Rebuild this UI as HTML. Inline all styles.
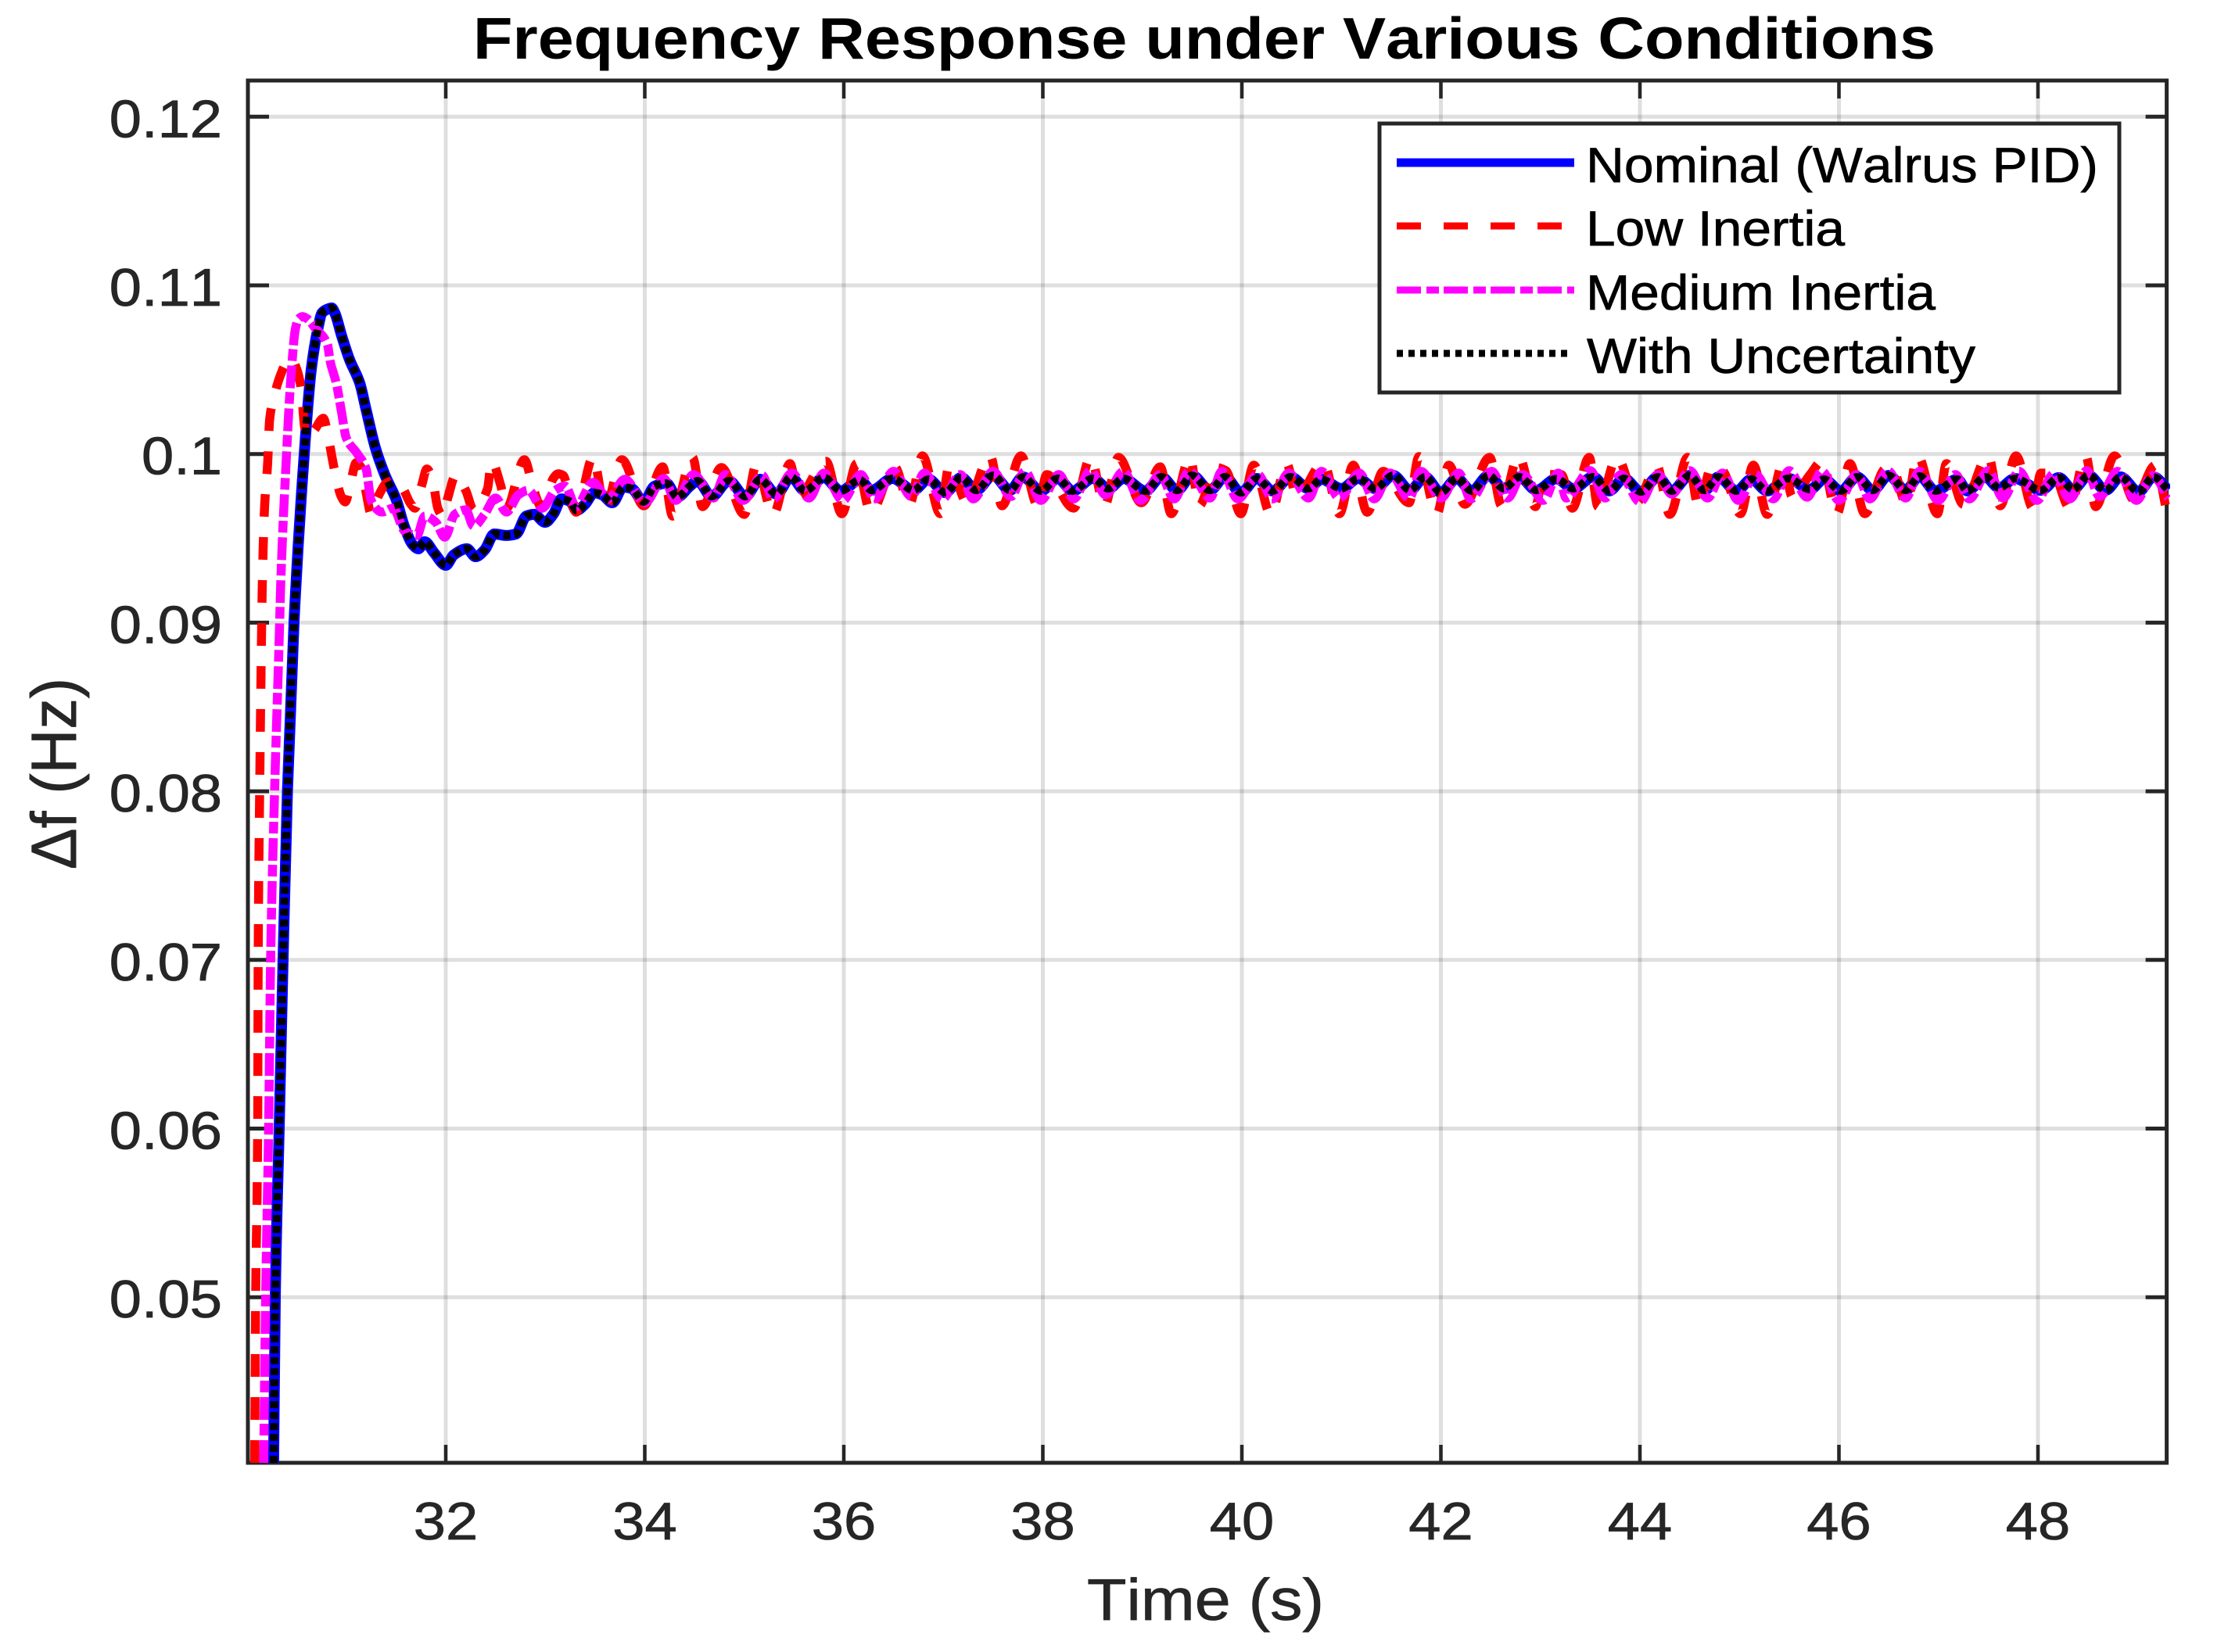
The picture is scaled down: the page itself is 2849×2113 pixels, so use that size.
<!DOCTYPE html>
<html lang="en">
<head>
<meta charset="utf-8">
<title>Frequency Response under Various Conditions</title>
<style>
  html, body { margin: 0; padding: 0; background: #fff; }
  svg { display: block; font-family: "Liberation Sans", Arial, sans-serif; font-kerning: none; }
</style>
</head>
<body>
<svg id="chart" xmlns="http://www.w3.org/2000/svg" width="2849" height="2113" viewBox="0 0 2849 2113">
  <defs>
    <clipPath id="plot-clip"><rect x="315" y="100" width="2460" height="1773"></rect></clipPath>
  </defs>
  <rect x="0" y="0" width="2849" height="2113" fill="#ffffff"></rect>
  <g id="grid"></g>
  <g id="ticks"></g>
  <rect x="317" y="103" width="2453.6" height="1768" fill="none" stroke="#262626" stroke-width="5"></rect>
  <g id="tick-labels" fill="#262626" stroke="#262626" stroke-width="0.8" font-size="68"></g>
  <g id="series" clip-path="url(#plot-clip)" fill="none"></g>

  <text x="605" y="75" font-size="75" font-weight="700" fill="#000000" textLength="1870" lengthAdjust="spacingAndGlyphs">Frequency Response under Various Conditions</text>
  <text x="1390" y="2072" font-size="75.6" fill="#262626" stroke="#262626" stroke-width="0.8" textLength="303" lengthAdjust="spacingAndGlyphs">Time (s)</text>
  <text transform="translate(97,1112) rotate(-90) scale(1,1.08)" x="0" y="0" font-size="75.6" fill="#262626" stroke="#262626" stroke-width="0.8" textLength="245" lengthAdjust="spacingAndGlyphs">Δf (Hz)</text>

  <g>
    <rect x="1764" y="158" width="946" height="344" fill="#ffffff" stroke="#262626" stroke-width="5"></rect>
    <g>
      <line x1="1786" y1="208" x2="2013" y2="208" stroke="#0000ff" stroke-width="11"></line>
      <text x="2028" y="233" font-size="63" fill="#000000" stroke="#000000" stroke-width="0.7" textLength="655" lengthAdjust="spacingAndGlyphs">Nominal (Walrus PID)</text>
    </g>
    <g>
      <line x1="1786" y1="289" x2="2013" y2="289" stroke="#ff0000" stroke-width="9" stroke-dasharray="31 29"></line>
      <text x="2028" y="314" font-size="63" fill="#000000" stroke="#000000" stroke-width="0.7" textLength="331" lengthAdjust="spacingAndGlyphs">Low Inertia</text>
    </g>
    <g>
      <line x1="1786" y1="371" x2="2013" y2="371" stroke="#ff00ff" stroke-width="9" stroke-dasharray="31 7 16 6"></line>
      <text x="2028" y="396" font-size="63" fill="#000000" stroke="#000000" stroke-width="0.7" textLength="447" lengthAdjust="spacingAndGlyphs">Medium Inertia</text>
    </g>
    <g>
      <line x1="1786" y1="452" x2="2007" y2="452" stroke="#000000" stroke-width="9" stroke-dasharray="8 7"></line>
      <text x="2029" y="477" font-size="63" fill="#000000" stroke="#000000" stroke-width="0.7" textLength="497" lengthAdjust="spacingAndGlyphs">With Uncertainty</text>
    </g>
  </g>
</svg>

<script>
const xTickValues = [32, 34, 36, 38, 40, 42, 44, 46, 48];
const xTickLabels = ["32", "34", "36", "38", "40", "42", "44", "46", "48"];
const yTickValues = [0.05, 0.06, 0.07, 0.08, 0.09, 0.1, 0.11, 0.12];
const yTickLabels = ["0.05", "0.06", "0.07", "0.08", "0.09", "0.1", "0.11", "0.12"];

const nominalTime = [30.27,30.287,30.326,30.365,30.409,30.475,30.578,30.648,30.711,30.758,30.821,30.853,30.884,30.955,31.033,31.136,31.198,31.293,31.387,31.505,31.583,31.67,31.725,31.788,31.882,32,32.079,32.212,32.299,32.393,32.487,32.605,32.707,32.809,32.888,32.998,33.084,33.163,33.257,33.312,33.399,33.493,33.572,33.674,33.784,33.87,33.988,34.098,34.216,34.326,34.452,34.53,34.672,34.845,35.01,35.159,35.324,35.47,35.61,35.8,35.97,36.16,36.28,36.49,36.7,36.85,37.02,37.18,37.33,37.5,37.67,37.8,37.98,38.15,38.3,38.5,38.66,38.81,39.03,39.19,39.35,39.5,39.68,39.83,39.99,40.15,40.31,40.49,40.67,40.8,41,41.17,41.34,41.52,41.69,41.84,42,42.16,42.31,42.48,42.63,42.79,42.96,43.16,43.33,43.53,43.69,43.84,44.01,44.18,44.32,44.5,44.65,44.79,44.97,45.12,45.28,45.49,45.71,45.85,46.02,46.18,46.34,46.5,46.67,46.81,46.97,47.19,47.29,47.47,47.61,47.77,48.03,48.21,48.35,48.51,48.68,48.83,49.01,49.16,49.31];

const nominalValues = [0.04018,0.05,0.06,0.07,0.08,0.09,0.1,0.10499,0.10731,0.10838,0.10861,0.10866,0.10838,0.10699,0.1056,0.1042,0.10267,0.10036,0.09878,0.09725,0.09572,0.09461,0.09438,0.0948,0.09415,0.0934,0.09401,0.09438,0.09391,0.09433,0.09526,0.09517,0.09526,0.09632,0.09642,0.09595,0.09646,0.09734,0.09716,0.09665,0.09702,0.09771,0.09758,0.09711,0.09804,0.09795,0.09716,0.09809,0.09827,0.09744,0.09809,0.09841,0.09748,0.09841,0.09748,0.0985,0.09762,0.09864,0.09781,0.0986,0.09781,0.09846,0.09785,0.09855,0.09785,0.0985,0.09771,0.0986,0.09785,0.09873,0.09785,0.09864,0.09781,0.09855,0.09781,0.09855,0.09795,0.09855,0.09781,0.09864,0.09785,0.09873,0.09785,0.09864,0.09771,0.09855,0.09781,0.09864,0.09795,0.0985,0.09795,0.09855,0.09795,0.09873,0.09785,0.09864,0.09771,0.09855,0.09781,0.09873,0.09795,0.09864,0.09785,0.09853,0.09795,0.09864,0.09781,0.09855,0.09776,0.09864,0.09781,0.09873,0.09785,0.09864,0.09781,0.0985,0.09781,0.09855,0.09790,0.0985,0.09781,0.09864,0.09785,0.09873,0.09785,0.09869,0.09781,0.0985,0.09781,0.09864,0.09799,0.09855,0.09785,0.0986,0.0979,0.09873,0.09785,0.09864,0.09776,0.09864,0.09785];

const uncertaintyValues = [0.04018,0.05,0.06,0.07,0.08,0.09,0.1,0.10499,0.10731,0.10838,0.10861,0.10866,0.10838,0.10699,0.1056,0.1042,0.10267,0.10036,0.09878,0.09725,0.09572,0.09461,0.09438,0.0948,0.09415,0.0934,0.09401,0.09438,0.09391,0.09433,0.09526,0.09517,0.09526,0.09632,0.09642,0.09595,0.09646,0.09734,0.09716,0.09665,0.09702,0.09771,0.09758,0.09711,0.09804,0.09795,0.09716,0.09809,0.09827,0.09744,0.09809,0.09841,0.09748,0.09841,0.09748,0.0985,0.09762,0.09864,0.09781,0.0986,0.09781,0.09846,0.09785,0.09855,0.09785,0.0985,0.09771,0.0986,0.09785,0.09873,0.09785,0.09864,0.09781,0.09855,0.09781,0.09855,0.09795,0.09855,0.09781,0.09864,0.09785,0.09873,0.09785,0.09864,0.09771,0.09855,0.09781,0.09864,0.09795,0.0985,0.09795,0.09855,0.09795,0.09873,0.09785,0.09864,0.09771,0.09855,0.09781,0.09873,0.09795,0.09864,0.09785,0.09853,0.09795,0.09864,0.09781,0.09855,0.09776,0.09864,0.09781,0.09873,0.09785,0.09864,0.09781,0.0985,0.09781,0.09855,0.09790,0.0985,0.09781,0.09864,0.09785,0.09873,0.09785,0.09869,0.09781,0.0985,0.09781,0.09864,0.09799,0.09855,0.09785,0.0986,0.0979,0.09873,0.09785,0.09864,0.09776,0.09864,0.09785];

const lowInertiaTime = [30.08,30.09,30.11,30.115,30.13,30.15,30.155,30.18,30.21,30.23,30.27,30.33,30.4,30.44,30.51,30.55,30.58,30.61,30.68,30.77,30.82,30.88,30.95,30.99,31.04,31.1,31.15,31.2,31.25,31.32,31.41,31.49,31.57,31.65,31.69,31.76,31.81,31.87,31.92,31.97,32.02,32.1,32.2,32.28,32.42,32.46,32.55,32.61,32.79,32.88,32.96,33.01,33.08,33.13,33.18,33.24,33.31,33.48,33.6,33.77,33.99,34.18,34.28,34.48,34.58,34.77,35,35.12,35.29,35.46,35.54,35.82,35.98,36.13,36.27,36.51,36.66,36.79,36.97,37.06,37.24,37.47,37.59,37.78,37.95,38.04,38.31,38.48,38.62,38.76,38.99,39.18,39.29,39.48,39.57,39.74,39.84,39.99,40.12,40.29,40.45,40.55,40.82,40.98,41.12,41.26,41.42,41.68,41.78,41.96,42.08,42.24,42.49,42.61,42.78,42.95,43.03,43.21,43.32,43.49,43.58,43.77,43.97,44.17,44.3,44.48,44.59,44.72,44.83,45.01,45.14,45.28,45.44,45.53,45.71,45.83,45.98,46.11,46.26,46.46,46.53,46.68,46.79,46.99,47.08,47.25,47.5,47.62,47.78,47.95,48.03,48.15,48.32,48.48,48.58,48.77,48.97,49.18,49.3];

const lowInertiaValues = [0.04018,0.05,0.06,0.07,0.08,0.08983,0.09183,0.09693,0.09943,0.10203,0.10328,0.10453,0.10545,0.10569,0.1049,0.10374,0.10166,0.10096,0.10142,0.10212,0.10096,0.09911,0.09748,0.09716,0.09818,0.09948,0.0992,0.09771,0.09646,0.09748,0.09832,0.09855,0.09795,0.09702,0.09679,0.09818,0.09911,0.09841,0.09679,0.09632,0.09739,0.09873,0.09785,0.09669,0.09795,0.09957,0.09818,0.09679,0.09966,0.09795,0.09688,0.09734,0.09855,0.09883,0.09873,0.09758,0.09655,0.0998,0.09679,0.09966,0.09693,0.09924,0.09632,0.0998,0.09688,0.0992,0.09642,0.09934,0.09642,0.09943,0.09748,0.09957,0.09646,0.09943,0.09655,0.09924,0.09702,0.09989,0.09646,0.09934,0.09711,0.09989,0.09693,0.09989,0.09693,0.09878,0.09679,0.0998,0.09693,0.0998,0.09711,0.09924,0.09646,0.0998,0.09693,0.0992,0.09901,0.09646,0.09934,0.09642,0.09943,0.09748,0.09948,0.09646,0.09934,0.09655,0.09897,0.09711,0.09985,0.09646,0.09934,0.09702,0.0998,0.09693,0.09989,0.09688,0.09878,0.09878,0.09679,0.0998,0.09688,0.0998,0.09716,0.09929,0.09642,0.0998,0.09688,0.09924,0.09901,0.09646,0.09934,0.09642,0.09948,0.09748,0.09878,0.09957,0.09646,0.09943,0.09646,0.09911,0.09924,0.09702,0.09989,0.09646,0.09943,0.09702,0.09989,0.09693,0.09989,0.09679,0.09887,0.09887,0.09679,0.09989,0.09688,0.09989,0.09725,0.09934,0.09642];

const mediumInertiaTime = [30.17,30.19,30.22,30.24,30.28,30.33,30.34,30.4,30.44,30.49,30.52,30.56,30.61,30.69,30.81,30.84,30.9,30.95,31,31.11,31.2,31.25,31.36,31.47,31.59,31.71,31.79,31.9,31.99,32.09,32.2,32.28,32.39,32.5,32.61,32.73,32.83,32.97,33.1,33.2,33.31,33.48,33.63,33.8,34,34.19,34.31,34.49,34.69,34.81,34.99,35.18,35.29,35.48,35.65,35.8,35.99,36.17,36.31,36.5,36.68,36.81,36.99,37.17,37.3,37.5,37.68,37.82,37.98,38.16,38.31,38.48,38.63,38.81,38.98,39.18,39.32,39.47,39.68,39.8,39.96,40.16,40.31,40.47,40.67,40.8,40.98,41.18,41.33,41.49,41.68,41.8,42,42.18,42.3,42.51,42.67,42.82,43.03,43.18,43.26,43.5,43.65,43.81,44,44.18,44.32,44.5,44.68,44.83,44.99,45.16,45.34,45.5,45.68,45.83,46,46.18,46.31,46.49,46.67,46.81,47,47.17,47.31,47.5,47.65,47.81,47.99,48.16,48.32,48.49,48.62,48.8,48.99,49.15,49.31];

const mediumInertiaValues = [0.04018,0.05,0.06,0.07,0.08,0.08983,0.09202,0.1,0.1042,0.10745,0.10801,0.10815,0.10801,0.10745,0.10652,0.10546,0.1042,0.10258,0.10096,0.10003,0.09911,0.09725,0.09656,0.09679,0.0954,0.09517,0.09632,0.09595,0.09507,0.09642,0.09669,0.09572,0.09642,0.09739,0.09656,0.09758,0.09785,0.09679,0.09785,0.09809,0.09688,0.09832,0.09734,0.0985,0.09711,0.09855,0.09725,0.09878,0.09739,0.09878,0.09725,0.09873,0.09734,0.09887,0.09739,0.09887,0.09725,0.09878,0.09734,0.09897,0.09748,0.09887,0.09734,0.09878,0.09734,0.09897,0.09748,0.09897,0.09725,0.09878,0.09734,0.09901,0.09758,0.09897,0.09725,0.09878,0.09734,0.09897,0.09739,0.09897,0.09734,0.09878,0.09734,0.09887,0.09739,0.09897,0.09739,0.09887,0.09734,0.09887,0.09739,0.09897,0.09739,0.09887,0.09734,0.09897,0.09739,0.09878,0.09725,0.09887,0.09739,0.09901,0.09739,0.09878,0.09716,0.09878,0.09762,0.09901,0.09739,0.09887,0.09725,0.09878,0.09734,0.09901,0.09744,0.09897,0.09725,0.09878,0.09734,0.09901,0.09739,0.09897,0.09725,0.09878,0.09734,0.09901,0.09739,0.09897,0.09725,0.09883,0.09734,0.09901,0.09748,0.09897,0.09725,0.09873,0.09739];

const PLOT_LEFT = 317, PLOT_BOTTOM = 1871, UNIT_X = 127.25, UNIT_Y = 21570;
const SVG_NS = "http://www.w3.org/2000/svg";

function xAxis(t) { return 570 + (t - 32) * UNIT_X; }
function yAxis(v) { return 580.7 + (0.1 - v) * UNIT_Y; }

function make(tag) { return document.createElementNS(SVG_NS, tag); }

function monotonePath(px, py) {
  const n = px.length;
  const dx = [], slope = [], tan = new Array(n);
  for (let i = 0; i < n - 1; i++) {
    dx[i] = px[i + 1] - px[i];
    slope[i] = (py[i + 1] - py[i]) / dx[i];
  }
  tan[0] = slope[0];
  tan[n - 1] = slope[n - 2];
  for (let i = 1; i < n - 1; i++) {
    if (slope[i - 1] * slope[i] <= 0) { tan[i] = 0; continue; }
    const w1 = 2 * dx[i] + dx[i - 1], w2 = dx[i] + 2 * dx[i - 1];
    tan[i] = (w1 + w2) / (w1 / slope[i - 1] + w2 / slope[i]);
  }
  let d = "M" + px[0].toFixed(2) + "," + py[0].toFixed(2);
  for (let i = 0; i < n - 1; i++) {
    const h = dx[i] / 3;
    d += "C" + (px[i] + h).toFixed(2) + "," + (py[i] + tan[i] * h).toFixed(2) + " " +
         (px[i + 1] - h).toFixed(2) + "," + (py[i + 1] - tan[i + 1] * h).toFixed(2) + " " +
         px[i + 1].toFixed(2) + "," + py[i + 1].toFixed(2);
  }
  return d;
}

function drawSeries(times, values, color, width, dash) {
  const el = make("path");
  el.setAttribute("d", monotonePath(times.map(xAxis), values.map(yAxis)));
  el.setAttribute("stroke", color);
  el.setAttribute("stroke-width", width);
  el.setAttribute("stroke-linejoin", "round");
  if (dash) el.setAttribute("stroke-dasharray", dash);
  document.getElementById("series").appendChild(el);
  return el;
}

const gridGroup = document.getElementById("grid");
const tickGroup = document.getElementById("ticks");
const labelGroup = document.getElementById("tick-labels");

xTickValues.forEach(function (t, i) {
  const x = xAxis(t);
  const g = make("line");
  
  
  g.setAttribute("x1", x); g.setAttribute("x2", x);
  g.setAttribute("y1", 103); g.setAttribute("y2", PLOT_BOTTOM);
  g.setAttribute("stroke", "#262626"); g.setAttribute("stroke-opacity", "0.15"); g.setAttribute("stroke-width", "5");
  gridGroup.appendChild(g);

  const bottom = make("line");
  
  
  bottom.setAttribute("x1", x); bottom.setAttribute("x2", x);
  bottom.setAttribute("y1", PLOT_BOTTOM); bottom.setAttribute("y2", PLOT_BOTTOM - 23);
  bottom.setAttribute("stroke", "#262626"); bottom.setAttribute("stroke-width", "4.5");
  tickGroup.appendChild(bottom);

  const top = make("line");
  
  
  top.setAttribute("x1", x); top.setAttribute("x2", x);
  top.setAttribute("y1", 103); top.setAttribute("y2", 126);
  top.setAttribute("stroke", "#262626"); top.setAttribute("stroke-width", "4.5");
  tickGroup.appendChild(top);

  const label = make("text");
  
  
  label.setAttribute("text-anchor", "middle");
  label.setAttribute("transform", "translate(" + x + ",1969) scale(1.09,1)");
  label.textContent = xTickLabels[i];
  labelGroup.appendChild(label);
});

yTickValues.forEach(function (v, i) {
  const y = yAxis(v);
  const g = make("line");
  
  
  g.setAttribute("x1", PLOT_LEFT); g.setAttribute("x2", 2770.6);
  g.setAttribute("y1", y); g.setAttribute("y2", y);
  g.setAttribute("stroke", "#262626"); g.setAttribute("stroke-opacity", "0.15"); g.setAttribute("stroke-width", "5");
  gridGroup.appendChild(g);

  const left = make("line");
  
  
  left.setAttribute("x1", PLOT_LEFT); left.setAttribute("x2", PLOT_LEFT + 27);
  left.setAttribute("y1", y); left.setAttribute("y2", y);
  left.setAttribute("stroke", "#262626"); left.setAttribute("stroke-width", "5");
  tickGroup.appendChild(left);

  const right = make("line");
  
  
  right.setAttribute("x1", 2770.6); right.setAttribute("x2", 2743.6);
  right.setAttribute("y1", y); right.setAttribute("y2", y);
  right.setAttribute("stroke", "#262626"); right.setAttribute("stroke-width", "5");
  tickGroup.appendChild(right);

  const label = make("text");
  
  
  label.setAttribute("text-anchor", "end");
  label.setAttribute("transform", "translate(284," + (y + 26) + ") scale(1.09,1)");
  label.textContent = yTickLabels[i];
  labelGroup.appendChild(label);
});

const lineNominal = drawSeries(nominalTime, nominalValues, "#0000ff", 14, null);



const lineLow = drawSeries(lowInertiaTime, lowInertiaValues, "#ff0000", 11.5, "29 26");



const lineMedium = drawSeries(mediumInertiaTime, mediumInertiaValues, "#ff00ff", 11.5, "29 6 15 5");



const lineUncertainty = drawSeries(nominalTime, uncertaintyValues, "#000000", 10, "9 5");


</script>
</body>
</html>
